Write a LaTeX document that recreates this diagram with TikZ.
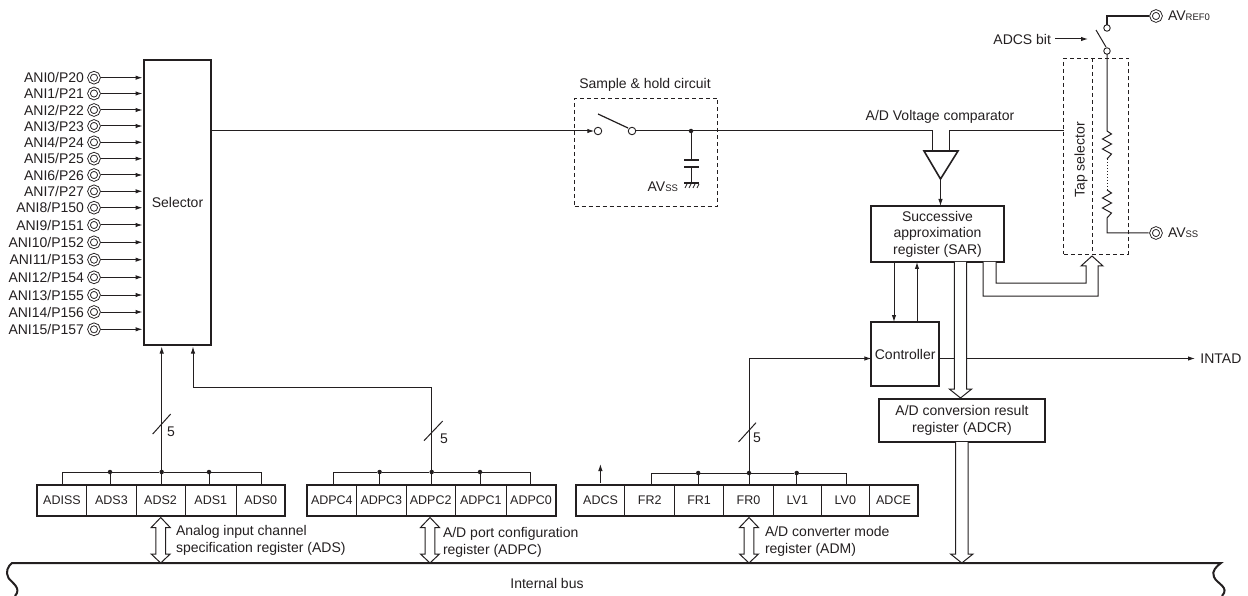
\documentclass[tikz,border=0pt]{standalone}
\usepackage{fontspec}
\setmainfont{Liberation Sans}
\usetikzlibrary{arrows.meta,calc}
\definecolor{ink}{HTML}{231F20}
\newcommand\fs{\fontsize{14}{17}\selectfont}
\newcommand\fc{\fontsize{12.5}{15}\selectfont}
\newcommand\sm[1]{{\fontsize{9.5}{11}\selectfont #1}}
\tikzset{
  wire/.style={draw=ink,line width=1pt},
  arr/.style={wire,-{Latex[length=7pt,width=4.5pt]}},
  box/.style={draw=ink,line width=2pt,fill=white,inner sep=0pt,outer sep=0pt,align=center,font=\fs,text=ink},
  cell/.style={draw=ink,line width=.9pt,inner sep=0pt,outer sep=0pt,font=\fc,text=ink,minimum height=31.5pt},
  frame/.style={draw=ink,line width=2pt,inner sep=0pt,outer sep=0pt},
  lbl/.style={inner sep=0pt,outer sep=0pt,font=\fs,text=ink,align=left},
  dash box/.style={draw=ink,line width=.9pt,dash pattern=on 4pt off 3pt,inner sep=0pt,outer sep=0pt},
  term/.style={circle,draw=ink,line width=.9pt,double=white,double distance=1.6pt,fill=white,minimum size=10pt,inner sep=0pt,outer sep=2.4pt},
  sw/.style={circle,draw=ink,line width=.9pt,fill=white,minimum size=7.5pt,inner sep=0pt,outer sep=0pt},
  jn/.style={circle,fill=ink,minimum size=4.5pt,inner sep=0pt,outer sep=0pt},
  hollow/.style={draw=ink,line width=1pt,fill=white,line join=miter},
}
% hollow double arrow: x, top y, bottom y
\newcommand\hollowdouble[3]{\draw[hollow] (#1,#2) -- ++(9.5,10) -- ++(-4.7,0) -- (#1+4.8,#3-9) -- ++(4.7,0) -- (#1,#3) -- ++(-9.5,-9) -- ++(4.7,0) -- (#1-4.8,#2+10) -- ++(-4.7,0) -- cycle;}
% hollow down arrow: x, top y, tip y
\newcommand\hollowdown[3]{\draw[hollow] (#1-6.2,#2) -- (#1-6.2,#3-9) -- ++(-5,0) -- (#1,#3) -- (#1+11.2,#3-9) -- ++(-5,0) -- (#1+6.2,#2);}
\begin{document}
\begin{tikzpicture}[x=1pt,y=-1pt]
\useasboundingbox (0,0) rectangle (1248,596);
% selector
\node[box,minimum width=67pt,minimum height=284pt] (sel) at (177.5,202.5) {Selector};
% inputs
\foreach \i/\n/\p/\y in {0/ANI0/P20/77.7,1/ANI1/P21/93.5,2/ANI2/P22/110,3/ANI3/P23/126,4/ANI4/P24/142.3,5/ANI5/P25/158.7,6/ANI6/P26/175,7/ANI7/P27/191.3,8/ANI8/P150/207.7,9/ANI9/P151/225,10/ANI10/P152/242.3,11/ANI11/P153/259.7,12/ANI12/P154/277.3,13/ANI13/P155/295,14/ANI14/P156/312,15/ANI15/P157/329.3}{
  \node[term] (t\i) at (94,\y) {};
  \node[lbl,anchor=east] (l\i) at (84,\y) {\n/\p};
  \draw[arr] (t\i.east) -- ($(t\i.east -| sel.west)+(-1.5,0)$);
}
% sample and hold
\node[dash box,minimum width=143pt,minimum height=108pt] (sh) at (646,152) {};
\node[lbl] (shl) at (645,85) {Sample \& hold circuit};
\node[sw] (s1) at (598,131) {};
\node[sw] (s2) at (632,131) {};
\coordinate (b1) at (598,114);
\coordinate (b2) at (628,128);
\draw[wire,line width=1.2pt] (b1) -- (b2);
\draw[arr] (sel.east |- s1) -- (s1.west);
\node[jn] (j0) at (691,131) {};
\coordinate (cp1) at (691,160);
\coordinate (cp2) at (691,167);
\coordinate (gnd) at (691,183);
\draw[wire] (j0) -- (cp1);
\draw[wire] (cp2) -- (gnd);
\draw[wire,line width=1.5pt] (684,160) -- (699,160) (684,167) -- (699,167);
\draw[wire,line width=1.2pt] (684,183) -- (699,183);
\draw[wire,line width=.7pt] (687,184) -- (685,188) (691,184) -- (689,188) (695,184) -- (693,188) (699,184) -- (697,188);
\node[lbl,anchor=east] (avss1) at (678,187) {AV\sm{SS}};
% comparator
\node[lbl] (cmpl) at (940,117) {A/D Voltage comparator};
\coordinate (c1) at (932,151);
\coordinate (c2) at (949,151);
\coordinate (capex) at (940.5,179);
\draw[draw=ink,line width=1.6pt,fill=white,line join=miter] (924,151) -- (958,151) -- (capex) -- cycle;
\draw[wire] (s2.east) -- (932,131) -- (c1);
\draw[wire] (c2) -- (949,131) -- (1063.5,131);
% SAR
\node[box,minimum width=133pt,minimum height=56pt] (sar) at (937.5,234) {Successive\\[-.5pt]approximation\\[-.5pt]register (SAR)};
\draw[arr] (capex) -- (capex |- sar.north);
% controller
\node[box,minimum width=67.6pt,minimum height=64pt] (ctl) at (905.2,354) {Controller};
\draw[arr] (894,262) -- (894,322);
\draw[arr] (917,322) -- (917,262);
% ADCR
\node[box,minimum width=166pt,minimum height=43pt] (adcr) at (962,420) {A/D conversion result\\register (ADCR)};
% INTAD
\node[lbl,anchor=west] (intad) at (1200.4,358.5) {INTAD};
\draw[arr] (ctl.east |- 0,358.5) -- (1195,358.5);
\hollowdown{960.5}{262}{398}
\hollowdown{961.8}{442}{563}
% internal bus
\coordinate (bl) at (12,563);
\coordinate (br) at (1221,563);
\draw[draw=ink,line width=2pt] (15,596) .. controls (22,588) and (12,583) .. (8.5,578) .. controls (5,572) and (8,566) .. (bl) -- (br) .. controls (1217,566) and (1211,571) .. (1214,577) .. controls (1217,584) and (1230,587) .. (1222,596);
\node[lbl] (ib) at (547,583) {Internal bus};
% tap selector
\node[dash box,minimum width=64.5pt,minimum height=196pt] (tap) at (1096,156) {};
\draw[dash box] (1092,58) -- (1092,254);
\node[lbl,rotate=90] (tapl) at (1081,160) {Tap selector};
% reference switch
\node[term] (vref) at (1156,16) {};
\node[lbl,anchor=west] (vrefl) at (1168,16) {AV\sm{REF0}};
\node[sw,minimum size=6.5pt] (r1) at (1107,28) {};
\node[sw,minimum size=6.5pt] (r2) at (1107,51) {};
\draw[draw=ink,line width=2pt] (vref.west) -- (1107,16) -- (r1.north);
\coordinate (rb1) at (1096,30);
\coordinate (rb2) at (1106,47);
\draw[wire] (rb1) -- (rb2);
\node[lbl,anchor=east] (adcsb) at (1051,39) {ADCS bit};
\coordinate (adcsend) at (1088,39);
\draw[arr] (adcsb.east) ++(4,0) -- (adcsend);
\coordinate (res1) at (1107,131);
\coordinate (res2) at (1107,159);
\coordinate (res3) at (1107,190);
\coordinate (res4) at (1107,218);
\node[term] (vss) at (1156,233) {};
\node[lbl,anchor=west] (vssl) at (1168,233) {AV\sm{SS}};
\draw[wire] (r2.south) -- (res1) -- ++(4.5,3) -- ++(-9,5) -- ++(9,5) -- ++(-9,5) -- ++(9,5) -- (res2);
\draw[wire,dotted] (res2) -- (res3);
\draw[wire] (res3) -- ++(4.5,3) -- ++(-9,5) -- ++(9,5) -- ++(-9,5) -- ++(9,5) -- (res4) -- (1107,233) -- (vss.west);
% tap arrow
\draw[hollow] (sar.south -| 996,0) -- (996,283) -- (1086,283) -- (1086,266) -- (1081,266) -- (1092,256) -- (1103,266) -- (1098,266) -- (1098,296) -- (983,296) -- (sar.south -| 983,0);
% register ADS
\node[frame,minimum width=248pt,minimum height=31.5pt] (ads) at (161,500.5) {};
\foreach \n/\a/\b in {ADISS/37/86.9,ADS3/86.9/136,ADS2/136/185,ADS1/185/236.5,ADS0/236.5/285}{
  \node[cell,minimum width={(\b-\a)*1pt}] (\n) at ({(\a+\b)/2},500.5) {\n};
}
\node[frame,minimum width=248pt,minimum height=31.5pt] at (161,500.5) {};
\node[jn] (a1) at (110,472) {};
\node[jn] (a2) at (161.7,472) {};
\node[jn] (a3) at (209,472) {};
\draw[wire] (62.8,484.7) -- (62.8,472) -- (a1) -- (a2) -- (a3) -- (261,472) -- (261,484.7);
\draw[wire] (a1) -- (a1 |- ads.north);
\draw[wire] (a3) -- (a3 |- ads.north);
\draw[wire] (a2) -- (a2 |- ads.north);
\draw[arr] (a2) -- (161.7,346.5);
\draw[wire] (152.7,434) -- (170.7,414);
\node[lbl] (n1) at (171,432) {5};
\hollowdouble{160.7}{517.5}{563}
\node[lbl,anchor=west] (adsl) at (176,540.5) {Analog input channel\\specification register (ADS)};
% register ADPC
\node[frame,minimum width=248.7pt,minimum height=31.5pt] (adpc) at (431.3,500.5) {};
\foreach \n/\a/\b in {ADPC4/307/356.7,ADPC3/356.7/406,ADPC2/406/455.4,ADPC1/455.4/506.3,ADPC0/506.3/555.7}{
  \node[cell,minimum width={(\b-\a)*1pt}] (\n) at ({(\a+\b)/2},500.5) {\n};
}
\node[frame,minimum width=248.7pt,minimum height=31.5pt] at (431.3,500.5) {};
\node[jn] (p1) at (379.6,472) {};
\node[jn] (p2) at (431.7,472) {};
\node[jn] (p3) at (480,472) {};
\draw[wire] (333,484.7) -- (333,472) -- (p1) -- (p2) -- (p3) -- (530.8,472) -- (530.8,484.7);
\draw[wire] (p1) -- (p1 |- adpc.north);
\draw[wire] (p3) -- (p3 |- adpc.north);
\draw[wire] (p2) -- (p2 |- adpc.north);
\draw[arr] (p2) -- (431.7,387.7) -- (193,387.7) -- (193,346.5);
\draw[wire] (424,440.7) -- (442.7,421);
\node[lbl] (n2) at (444,439) {5};
\hollowdouble{430}{517.5}{563}
\node[lbl,anchor=west] (adpcl) at (443,542) {A/D port configuration\\register (ADPC)};
% register ADM
\node[frame,minimum width=341.5pt,minimum height=31.5pt] (adm) at (747,500.5) {};
\foreach \n/\a/\b in {ADCS/576.2/624.9,FR2/624.9/674.5,FR1/674.5/723.6,FR0/723.6/773.3,LV1/773.3/821.3,LV0/821.3/869.3,ADCE/869.3/917.7}{
  \node[cell,minimum width={(\b-\a)*1pt}] (\n) at ({(\a+\b)/2},500.5) {\n};
}
\node[frame,minimum width=341.5pt,minimum height=31.5pt] at (747,500.5) {};
\node[jn] (m1) at (698.2,473) {};
\node[jn] (m2) at (749,473) {};
\node[jn] (m3) at (796.7,473) {};
\draw[wire] (651.2,484.7) -- (651.2,473) -- (m1) -- (m2) -- (m3) -- (846.3,473) -- (846.3,484.7);
\draw[wire] (m1) -- (m1 |- adm.north);
\draw[wire] (m3) -- (m3 |- adm.north);
\draw[wire] (m2) -- (m2 |- adm.north);
\draw[arr] (m2) -- (749,358.5) -- (ctl.west |- 0,358.5);
\draw[wire] (738.5,442) -- (756,422.7);
\node[lbl] (n3) at (757,438) {5};
\coordinate (adcstop) at (600.4,464);
\draw[arr] (600.4,483) -- (adcstop);
\hollowdouble{749}{517.5}{563}
\node[lbl,anchor=west] (adml) at (765,541) {A/D converter mode\\register (ADM)};
\end{tikzpicture}
\end{document}
